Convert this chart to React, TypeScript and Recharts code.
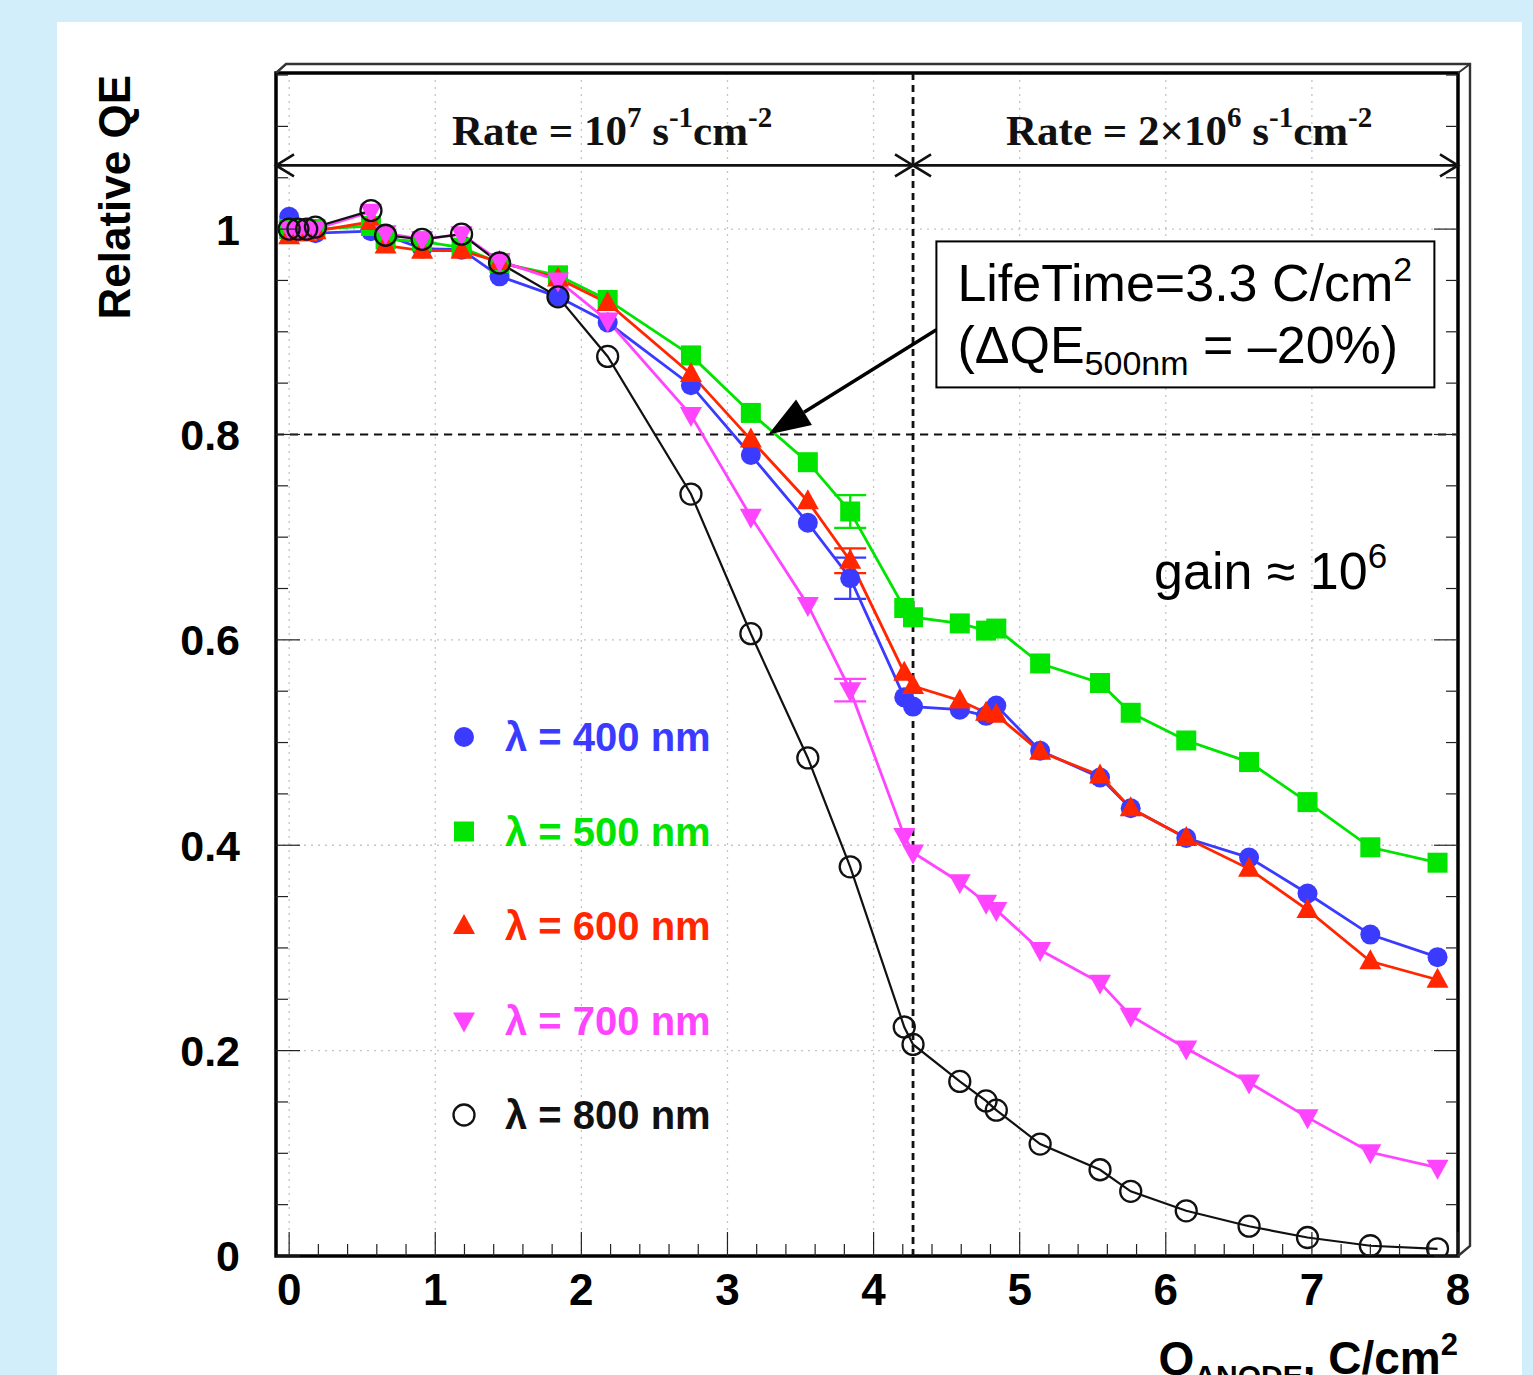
import React from "react";
import {
  LineChart,
  Line,
  XAxis,
  YAxis,
  CartesianGrid,
  ReferenceLine,
  ReferenceArea,
  ReferenceDot,
  ErrorBar,
  Legend,
} from "recharts";

// accumulated anode charge, C/cm2
const charge = [
  0, 0.06, 0.12, 0.18, 0.56, 0.66, 0.91, 1.18, 1.44, 1.84, 2.18, 2.75, 3.16, 3.55,
  3.84, 4.21, 4.27, 4.59, 4.77, 4.84, 5.14, 5.55, 5.76, 6.14, 6.57, 6.97, 7.4, 7.86,
];

const qe400 = [
  1.012, 1.0, 1.0, 0.996, 0.998, 0.994, 0.981, 0.98, 0.954, 0.934, 0.909, 0.848, 0.78, 0.714,
  0.66, 0.544, 0.535, 0.532, 0.526, 0.536, 0.492, 0.466, 0.436, 0.407, 0.388, 0.353, 0.313, 0.291,
];
const qe500 = [
  1.0, 1.0, 1.0, 1.0, 1.003, 0.99, 0.988, 0.982, 0.967, 0.955, 0.931, 0.877, 0.821, 0.773,
  0.725, 0.631, 0.622, 0.616, 0.609, 0.611, 0.577, 0.558, 0.529, 0.502, 0.481, 0.442, 0.398, 0.383,
];
const qe600 = [
  0.993, 0.996, 0.996, 0.998, 1.007, 0.984, 0.979, 0.979, 0.968, 0.952, 0.928, 0.859, 0.795, 0.735,
  0.677, 0.568, 0.555, 0.541, 0.529, 0.527, 0.491, 0.468, 0.436, 0.407, 0.377, 0.337, 0.287, 0.269,
];
const qe700 = [
  1.0, 0.999, 1.0, 1.0, 1.017, 0.996, 0.99, 0.995, 0.969, 0.95, 0.911, 0.819, 0.72, 0.634,
  0.551, 0.409, 0.393, 0.364, 0.344, 0.337, 0.298, 0.266, 0.234, 0.202, 0.169, 0.135, 0.101, 0.086,
];
const qe800 = [
  1.0, 1.0, 1.0, 1.002, 1.018, 0.994, 0.99, 0.995, 0.967, 0.934, 0.876, 0.742, 0.606, 0.485,
  0.379, 0.223, 0.206, 0.17, 0.151, 0.142, 0.109, 0.084, 0.063, 0.044, 0.029, 0.018, 0.01, 0.007,
];

// only a few points have visible error bars
const err400 = [0, 0, 0, 0, 0, 0, 0, 0, 0, 0, 0, 0, 0, 0, 0.02, 0, 0, 0, 0, 0, 0, 0, 0, 0, 0, 0, 0, 0];
const err500 = [0, 0, 0, 0, 0, 0, 0, 0, 0, 0, 0, 0, 0, 0, 0.016, 0, 0, 0, 0, 0, 0, 0, 0, 0, 0, 0, 0, 0];
const err600 = [0, 0, 0, 0, 0, 0, 0, 0, 0, 0, 0, 0, 0, 0, 0.012, 0, 0, 0, 0, 0, 0, 0, 0, 0, 0, 0, 0, 0];
const err700 = [0, 0, 0, 0, 0, 0, 0, 0, 0, 0, 0, 0, 0, 0, 0.011, 0, 0, 0, 0, 0, 0, 0, 0, 0, 0, 0, 0, 0];

const xTicks = [
  0, 0.2, 0.4, 0.6, 0.8, 1, 1.2, 1.4, 1.6, 1.8, 2, 2.2, 2.4, 2.6, 2.8, 3, 3.2, 3.4, 3.6, 3.8, 4,
  4.2, 4.4, 4.6, 4.8, 5, 5.2, 5.4, 5.6, 5.8, 6, 6.2, 6.4, 6.6, 6.8, 7, 7.2, 7.4, 7.6, 7.8, 8,
];
const yTicks = [
  0, 0.05, 0.1, 0.15, 0.2, 0.25, 0.3, 0.35, 0.4, 0.45, 0.5, 0.55, 0.6, 0.65, 0.7, 0.75, 0.8,
  0.85, 0.9, 0.95, 1, 1.05, 1.1, 1.15,
];
const xGrid = [0, 1, 2, 3, 4, 5, 6, 7, 8];
const yGrid = [0.2, 0.4, 0.6, 0.8, 1.0];

const series = [
  { key: "l400", err: "e400", name: "λ = 400 nm", color: "#3b3bff", shape: "circle" },
  { key: "l500", err: "e500", name: "λ = 500 nm", color: "#00e400", shape: "square" },
  { key: "l600", err: "e600", name: "λ = 600 nm", color: "#ff2600", shape: "up" },
  { key: "l700", err: "e700", name: "λ = 700 nm", color: "#ff44ff", shape: "down" },
  { key: "l800", err: "", name: "λ = 800 nm", color: "#111111", shape: "open" },
];

const rows = charge.map((q, i) => ({
  q,
  l400: qe400[i],
  l500: qe500[i],
  l600: qe600[i],
  l700: qe700[i],
  l800: qe800[i],
  e400: err400[i],
  e500: err500[i],
  e600: err600[i],
  e700: err700[i],
}));

const W = 1533;
const H = 1375;
// axes take 1px each, so plot area is 276..1458 x 73..1256
const M = { top: 73, right: 74, bottom: 118, left: 275 };
const X_DOMAIN: [number, number] = [-0.09, 8.0];
const Y_DOMAIN: [number, number] = [0, 1.152];
const SPLIT = 4.27;
const ARROW_Y = 1.062;
const SANS = "'Liberation Sans', Arial, Helvetica, sans-serif";
const SERIF = "'Liberation Serif', 'Times New Roman', serif";

const isMajor = (v: number, step: number) => Math.abs(v / step - Math.round(v / step)) < 1e-6;

function Marker({ shape, cx, cy, color }: { shape: string; cx: number; cy: number; color: string }) {
  if (shape === "circle") return <circle cx={cx} cy={cy} r={10} fill={color} />;
  if (shape === "square") return <rect x={cx - 10} y={cy - 10} width={20} height={20} fill={color} />;
  if (shape === "up")
    return <polygon points={`${cx},${cy - 12} ${cx + 11},${cy + 8} ${cx - 11},${cy + 8}`} fill={color} />;
  if (shape === "down")
    return <polygon points={`${cx},${cy + 12} ${cx + 11},${cy - 8} ${cx - 11},${cy - 8}`} fill={color} />;
  return <circle cx={cx} cy={cy} r={10.5} fill="none" stroke={color} strokeWidth={2.3} />;
}

const BottomTick = (props: any) => {
  const { x, y, payload } = props;
  const major = isMajor(payload.value, 1);
  return (
    <g>
      <line x1={x} y1={y} x2={x} y2={y - (major ? 24 : 12)} stroke="#222" strokeWidth={1.2} />
      {major && (
        <text x={x} y={y + 49} textAnchor="middle" fontFamily={SANS} fontWeight="bold" fontSize={44} fill="#000">
          {payload.value}
        </text>
      )}
    </g>
  );
};

const LeftTick = (props: any) => {
  const { x, y, payload } = props;
  const major = isMajor(payload.value, 0.2);
  return (
    <g>
      <line x1={x} y1={y} x2={x + (major ? 24 : 12)} y2={y} stroke="#222" strokeWidth={1.2} />
      {major && payload.value <= 1.0001 && (
        <text x={x - 36} y={y} dy="0.36em" textAnchor="end" fontFamily={SANS} fontWeight="bold" fontSize={43} fill="#000">
          {payload.value}
        </text>
      )}
    </g>
  );
};

const RightTick = (props: any) => {
  const { x, y, payload } = props;
  const major = isMajor(payload.value, 0.2);
  return <line x1={x} y1={y} x2={x - (major ? 24 : 12)} y2={y} stroke="#222" strokeWidth={1.2} />;
};

// double headed range arrow with open chevron heads
const RangeArrow = (props: any) => {
  const { x1, y1, x2, y2 } = props;
  return (
    <g stroke="#111" strokeWidth={2.6} fill="none">
      <line x1={x1} y1={y1} x2={x2} y2={y2} />
      <polyline points={`${x1 + 18},${y1 - 11} ${x1},${y1} ${x1 + 18},${y1 + 11}`} />
      <polyline points={`${x2 - 18},${y2 - 11} ${x2},${y2} ${x2 - 18},${y2 + 11}`} />
    </g>
  );
};

// solid arrow pointing at the 80% crossing
const PointerArrow = (props: any) => {
  const { x1, y1, x2, y2 } = props;
  const ang = Math.atan2(y2 - y1, x2 - x1);
  const len = 42;
  const half = 15;
  const bx = x2 - len * Math.cos(ang);
  const by = y2 - len * Math.sin(ang);
  const px = -Math.sin(ang) * half;
  const py = Math.cos(ang) * half;
  return (
    <g>
      <line x1={x1} y1={y1} x2={bx} y2={by} stroke="#000" strokeWidth={3.5} />
      <polygon points={`${x2},${y2} ${bx + px},${by + py} ${bx - px},${by - py}`} fill="#000" />
    </g>
  );
};

const RateLabel = (sup: string, pre: string) => (props: any) => {
  const { cx, cy } = props;
  return (
    <text x={cx} y={cy} textAnchor="middle" fontFamily={SERIF} fontWeight="bold" fontSize={43} fill="#111">
      {pre}
      <tspan dy={-18} fontSize={29}>{sup}</tspan>
      <tspan dy={18}> s</tspan>
      <tspan dy={-18} fontSize={29}>-1</tspan>
      <tspan dy={18}>cm</tspan>
      <tspan dy={-18} fontSize={29}>-2</tspan>
    </text>
  );
};

const LifeBox = (props: any) => {
  const { cx, cy } = props;
  return (
    <g>
      <rect x={cx} y={cy} width={498} height={146} fill="#fff" stroke="#000" strokeWidth={2} />
      <text x={cx + 21} y={cy + 60} fontFamily={SANS} fontSize={52} fill="#000">
        LifeTime=3.3 C/cm<tspan dy={-20} fontSize={34}>2</tspan>
      </text>
      <text x={cx + 21} y={cy + 122} fontFamily={SANS} fontSize={52} fill="#000">
        (ΔQE<tspan dy={12} fontSize={34}>500nm</tspan>
        <tspan dy={-12}> = –20%)</tspan>
      </text>
    </g>
  );
};

const GainLabel = (props: any) => {
  const { cx, cy } = props;
  return (
    <text x={cx} y={cy} fontFamily={SANS} fontSize={52} fill="#000">
      gain ≈ 10<tspan dy={-21} fontSize={35}>6</tspan>
    </text>
  );
};

const renderLegend = () => (
  <svg width={300} height={450}>
    {series.map((s, i) => (
      <g key={s.key}>
        <Marker shape={s.shape} cx={24} cy={32 + i * 94.5} color={s.color} />
        <text x={65} y={32 + i * 94.5} dy="0.36em" fontFamily={SANS} fontWeight="bold" fontSize={40} fill={s.color}>
          {s.name}
        </text>
      </g>
    ))}
  </svg>
);

export default function App() {
  const plotL = 276;
  const plotR = 1458;
  const plotT = 73;
  const plotB = 1256;
  return (
    <div style={{ position: "absolute", left: 0, top: 0, width: W, height: H, background: "#d2eefb", overflow: "hidden" }}>
      <div style={{ position: "absolute", left: 57, top: 22, width: 1465, height: H, background: "#fff" }} />
      <div style={{ position: "absolute", left: 0, top: 0 }}>
        <LineChart width={W} height={H} data={rows} margin={M}>
          <CartesianGrid
            stroke="#c4c4c4"
            strokeDasharray="2 5"
            strokeWidth={1.3}
            verticalValues={xGrid}
            horizontalValues={yGrid}
          />
          <XAxis
            xAxisId={0}
            dataKey="q"
            type="number"
            domain={X_DOMAIN}
            allowDataOverflow
            ticks={xTicks}
            interval={0}
            height={1}
            tickSize={0}
            tickMargin={0}
            axisLine={false}
            tickLine={false}
            tick={BottomTick}
          />
          <YAxis
            yAxisId={0}
            type="number"
            domain={Y_DOMAIN}
            allowDataOverflow
            ticks={yTicks}
            interval={0}
            width={1}
            tickSize={0}
            tickMargin={0}
            axisLine={false}
            tickLine={false}
            tick={LeftTick}
          />
          <YAxis
            yAxisId="right"
            orientation="right"
            type="number"
            domain={Y_DOMAIN}
            allowDataOverflow
            ticks={yTicks}
            interval={0}
            width={1}
            tickSize={0}
            tickMargin={0}
            axisLine={false}
            tickLine={false}
            tick={RightTick}
          />

          <ReferenceLine y={0.8} stroke="#111" strokeWidth={2} strokeDasharray="8 6" />
          <ReferenceLine x={SPLIT} stroke="#111" strokeWidth={2.8} strokeDasharray="7 5" />
          <ReferenceLine
            segment={[{ x: X_DOMAIN[0], y: ARROW_Y }, { x: SPLIT, y: ARROW_Y }]}
            shape={RangeArrow}
          />
          <ReferenceLine
            segment={[{ x: SPLIT, y: ARROW_Y }, { x: X_DOMAIN[1], y: ARROW_Y }]}
            shape={RangeArrow}
          />
          <ReferenceDot x={2.21} y={1.082} r={0} shape={RateLabel("7", "Rate = 10")} />
          <ReferenceDot x={6.16} y={1.082} r={0} shape={RateLabel("6", "Rate = 2×10")} />

          {series.map((s) => (
            <Line
              key={s.key}
              dataKey={s.key}
              name={s.name}
              stroke={s.color}
              strokeWidth={s.shape === "open" ? 2.2 : 2.8}
              isAnimationActive={false}
              legendType="none"
              dot={(p: any) => <Marker key={`${s.key}-${p.index}`} shape={s.shape} cx={p.cx} cy={p.cy} color={s.color} />}
              activeDot={false}
            >
              {s.err && <ErrorBar dataKey={s.err} direction="y" width={16} stroke={s.color} strokeWidth={2.2} />}
            </Line>
          ))}

          <ReferenceLine segment={[{ x: 4.43, y: 0.902 }, { x: 3.28, y: 0.8 }]} shape={PointerArrow} />
          <ReferenceDot x={4.43} y={0.988} r={0} shape={LifeBox} />
          <ReferenceDot x={5.92} y={0.65} r={0} shape={GainLabel} />

          <ReferenceArea
            x1={X_DOMAIN[0]}
            x2={X_DOMAIN[1]}
            y1={Y_DOMAIN[0]}
            y2={Y_DOMAIN[1]}
            fill="none"
            stroke="#000"
            strokeWidth={3.5}
          />

          <Legend
            layout="vertical"
            align="center"
            verticalAlign="middle"
            content={renderLegend}
            wrapperStyle={{ position: "absolute", left: 440, top: 705, width: 300, height: 450 }}
          />
        </LineChart>
      </div>
      {/* raised ROOT-style frame edge and axis titles */}
      <svg width={W} height={H} style={{ position: "absolute", left: 0, top: 0, pointerEvents: "none" }}>
        <polyline
          points={`${plotL},${plotT} ${plotL + 10},${plotT - 9} ${plotR + 12},${plotT - 9} ${plotR + 12},${plotB - 10} ${plotR},${plotB}`}
          fill="none"
          stroke="#333"
          strokeWidth={2.4}
        />
        <line x1={plotR} y1={plotT} x2={plotR + 12} y2={plotT - 9} stroke="#333" strokeWidth={2} />
        <text
          x={130}
          y={75}
          textAnchor="end"
          transform="rotate(-90 130 75)"
          fontFamily={SANS}
          fontWeight="bold"
          fontSize={44}
          fill="#000"
        >
          Relative QE
        </text>
        <text x={plotR} y={1374} textAnchor="end" fontFamily={SANS} fontWeight="bold" fontSize={46} fill="#000">
          Q<tspan dy={12} fontSize={30}>ANODE</tspan>
          <tspan dy={-12}>, C/cm</tspan>
          <tspan dy={-19} fontSize={31}>2</tspan>
        </text>
      </svg>
    </div>
  );
}
